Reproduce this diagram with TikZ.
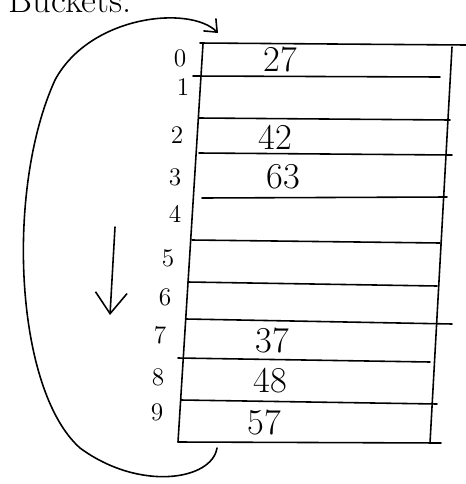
\documentclass[tikz,border=0pt]{standalone}
\usepackage{tikz}
\usetikzlibrary{arrows.meta}

\begin{document}
\begin{tikzpicture}[x=0.02cm, y=-0.02cm, line width=0.9pt, line cap=round,
    idx/.style={font=\Large},
    val/.style={font=\huge}]
    \useasboundingbox (0,0) rectangle (466,484);

    % Heading (cut off at the top edge, as in the sketch)
    \node[font=\huge, anchor=base west, inner sep=0pt] (head) at (8,12) {Buckets:};

    % Table frame
    \draw (200,43) -- (466,45);
    \draw (203,44) -- (178,442);
    \draw (452,47) -- (430,443);
    \draw (178,442) -- (441,443);

    % Slot separators
    \draw (193,76) -- (440,77);
    \draw (199,118) -- (450,120);
    \draw (199,153) -- (452,155);
    \draw (202,198) -- (447,197);
    \draw (192,240) -- (440,243);
    \draw (188,282) -- (437,286);
    \draw (186,319) -- (452,324);
    \draw (178,358) -- (430,362);
    \draw (181,400) -- (437,404);

    % Slot indices
    \node[idx] (i0) at (180,58) {0};
    \node[idx] (i1) at (183,87) {1};
    \node[idx] (i2) at (177,135) {2};
    \node[idx] (i3) at (175,177) {3};
    \node[idx] (i4) at (175,214) {4};
    \node[idx] (i5) at (168,258) {5};
    \node[idx] (i6) at (165,297) {6};
    \node[idx] (i7) at (160,335) {7};
    \node[idx] (i8) at (158,377) {8};
    \node[idx] (i9) at (157,412) {9};

    % Stored keys
    \node[val] (k27) at (280,59) {27};
    \node[val] (k42) at (275,137) {42};
    \node[val] (k63) at (283,177) {63};
    \node[val] (k37) at (272,340) {37};
    \node[val] (k48) at (270,381) {48};
    \node[val] (k57) at (264,422) {57};

    % Wrap-around from the last slot back to the first
    \coordinate (wrapS) at (217,448);
    \coordinate (wrapE) at (218,33);
    \draw[-{Straight Barb[length=6pt, width=10pt]}] (wrapS)
        .. controls (212,480) and (140,492) .. (80,448)
        .. controls (15,390) and (5,190) .. (55,80)
        .. controls (90,15) and (190,5) .. (wrapE);

    % Probe direction
    \coordinate (probeA) at (115,227);
    \coordinate (probeB) at (110,315);
    \draw[-{Straight Barb[length=12pt, width=18pt]}] (probeA) -- (probeB);

\end{tikzpicture}
\end{document}
